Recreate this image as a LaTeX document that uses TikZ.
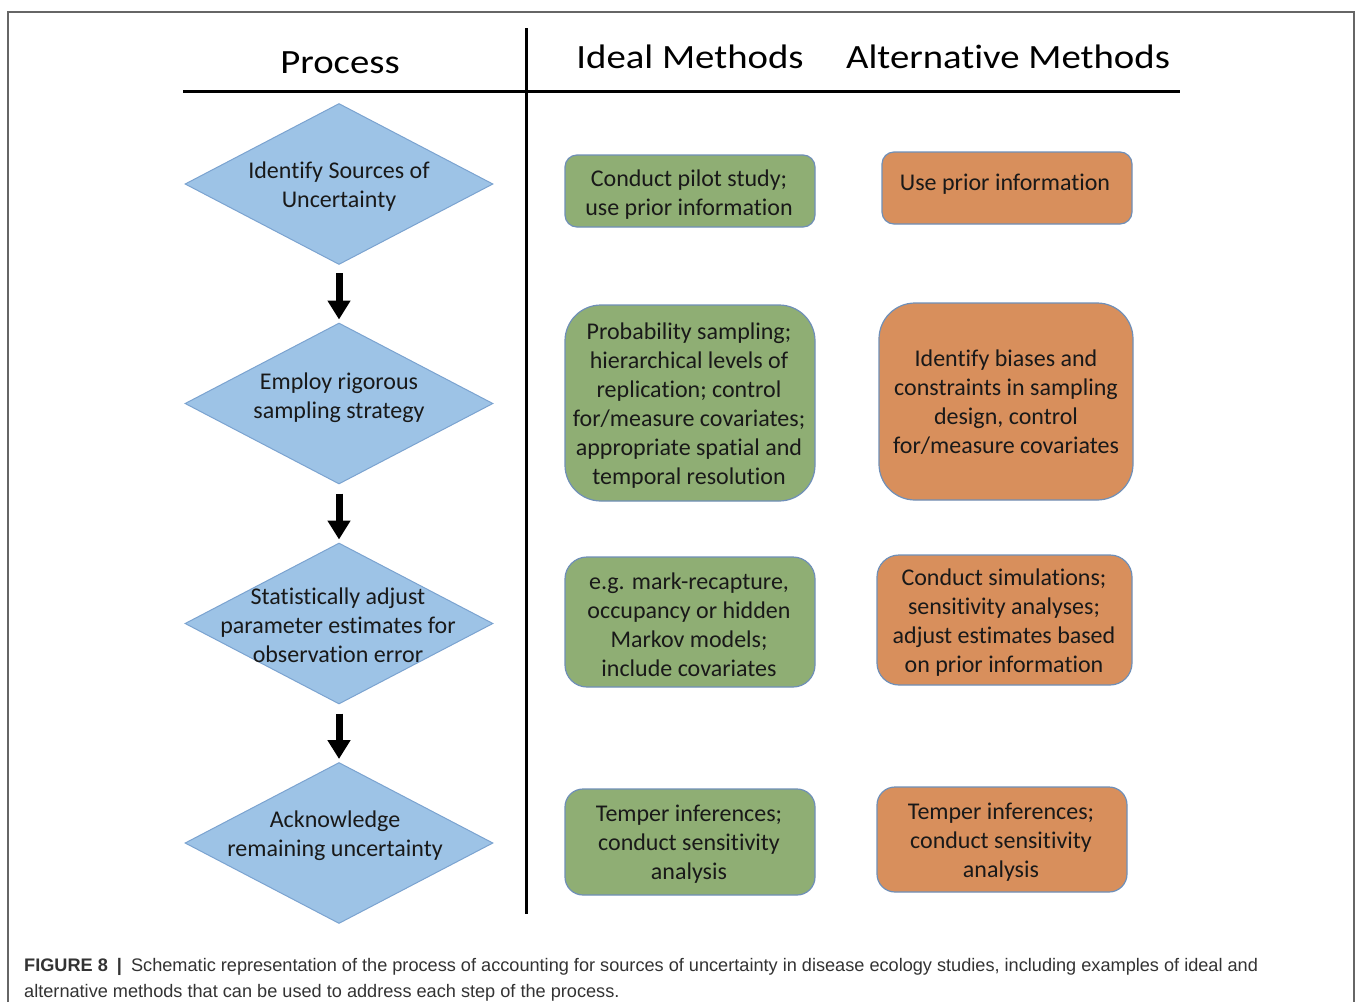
\documentclass[tikz,border=0pt]{standalone}
\usepackage{fontspec}
\setmainfont{Carlito}[Ligatures=NoCommon]
\newfontfamily\hdrfont[FakeStretch=1.14,Ligatures=NoCommon]{Carlito}
\newfontfamily\capfont{Liberation Sans}
\usetikzlibrary{shapes.geometric,arrows.meta}
\definecolor{dfill}{HTML}{9DC3E6}
\definecolor{ddraw}{HTML}{7BA3D0}
\definecolor{gfill}{HTML}{8FAE74}
\definecolor{ofill}{HTML}{D88F5C}
\definecolor{bdraw}{HTML}{6F8FB8}
\definecolor{capcol}{HTML}{333333}
\definecolor{framecol}{HTML}{666666}
\tikzset{
  bodyfont/.style={font=\fontsize{24}{29}\selectfont},
  hdr/.style={font=\hdrfont\fontsize{34}{40}\selectfont, anchor=base, inner sep=0pt},
  dia/.style={diamond, draw=ddraw, fill=dfill, line width=1pt, inner sep=0pt,
    minimum width=308pt, minimum height=161pt},
  btext/.style={bodyfont, align=center, inner sep=0pt, text=black!90},
  gbox/.style={draw=bdraw, fill=gfill, line width=1.2pt},
  obox/.style={draw=bdraw, fill=ofill, line width=1.2pt},
  bigarrow/.style={line width=7pt, -{Triangle[width=22pt,length=19pt]}},
  rule/.style={line width=3pt, black},
  captext/.style={font=\capfont\fontsize{18.15}{22}\selectfont, text=capcol, anchor=base west, inner sep=0pt}
}
\begin{document}
\begin{tikzpicture}[x=1pt,y=-1pt]
\useasboundingbox (0,0) rectangle (1355,1002);
\fill[white] (0,0) rectangle (1355,1002);
% frame
\draw[framecol, line width=1.2pt] (8,1002) -- (8,12) -- (1354,12) -- (1354,1002);
% rules
\coordinate (hl) at (183,91);
\coordinate (hr) at (1180,91);
\coordinate (vt) at (526,28);
\coordinate (vb) at (526,914);
\draw[rule] (hl) -- (hr);
\draw[rule] (vt) -- (vb);
% headers
\node[hdr] (hproc) at (340,73) {Process};
\node[hdr] (hideal) at (690,68) {Ideal Methods};
\node[hdr] (halt) at (1008,68) {Alternative Methods};
% diamonds
\node[dia] (d1) at (339,184) {};
\node[dia] (d2) at (339,403.5) {};
\node[dia] (d3) at (339,623.5) {};
\node[dia] (d4) at (339,843) {};
\node[btext] (t1) at (339,186.5) {Identify Sources of\\Uncertainty};
\node[btext] (t2) at (339,398) {Employ rigorous\\sampling strategy};
\node[btext] (t3) at (338,625.5) {Statistically adjust\\parameter estimates for\\observation error};
\node[btext] (t4) at (335,836) {Acknowledge\\remaining uncertainty};
% arrows
\draw[bigarrow, shorten <=8pt, shorten >=3pt] (d1.south) -- (d2.north);
\draw[bigarrow, shorten <=9pt, shorten >=3pt] (d2.south) -- (d3.north);
\draw[bigarrow, shorten <=9pt, shorten >=3pt] (d3.south) -- (d4.north);
% ideal methods
\node[gbox, minimum width=250pt, minimum height=72pt, rounded corners=12pt] (g1) at (690,191) {};
\node[gbox, minimum width=250pt, minimum height=196pt, rounded corners=36pt] (g2) at (690,403) {};
\node[gbox, minimum width=250pt, minimum height=130pt, rounded corners=22pt] (g3) at (690,622) {};
\node[gbox, minimum width=250pt, minimum height=106pt, rounded corners=18pt] (g4) at (690,842) {};
\node[btext] (g1t) at (689,195) {Conduct pilot study;\\use prior information};
\node[btext] (g2t) at (689,406) {Probability sampling;\\hierarchical levels of\\replication; control\\for/measure covariates;\\appropriate spatial and\\temporal resolution};
\node[btext] (g3t) at (689,625) {e.g. mark-recapture,\\occupancy or hidden\\Markov models;\\include covariates};
\node[btext] (g4t) at (689,844.5) {Temper inferences;\\conduct sensitivity\\analysis};
% alternative methods
\node[obox, minimum width=250pt, minimum height=72pt, rounded corners=12pt] (o1) at (1007,188) {};
\node[obox, minimum width=254pt, minimum height=197pt, rounded corners=36pt] (o2) at (1006,401.5) {};
\node[obox, minimum width=255pt, minimum height=130pt, rounded corners=22pt] (o3) at (1004.5,620) {};
\node[obox, minimum width=250pt, minimum height=105pt, rounded corners=18pt] (o4) at (1002,839.5) {};
\node[btext] (o1t) at (1005,184.5) {Use prior information};
\node[btext] (o2t) at (1006,402.5) {Identify biases and\\constraints in sampling\\design, control\\for/measure covariates};
\node[btext] (o3t) at (1004,623) {Conduct simulations;\\sensitivity analyses;\\adjust estimates based\\on prior information};
\node[btext] (o4t) at (1001,842) {Temper inferences;\\conduct sensitivity\\analysis};
% caption
\node[captext] (cap1) at (24,971) {{\bfseries FIGURE 8}\hspace{0.5em}{\bfseries|}\hspace{0.5em}Schematic representation of the process of accounting for sources of uncertainty in disease ecology studies, including examples of ideal and};
\node[captext] (cap2) at (24,997) {alternative methods that can be used to address each step of the process.};
\end{tikzpicture}
\end{document}
